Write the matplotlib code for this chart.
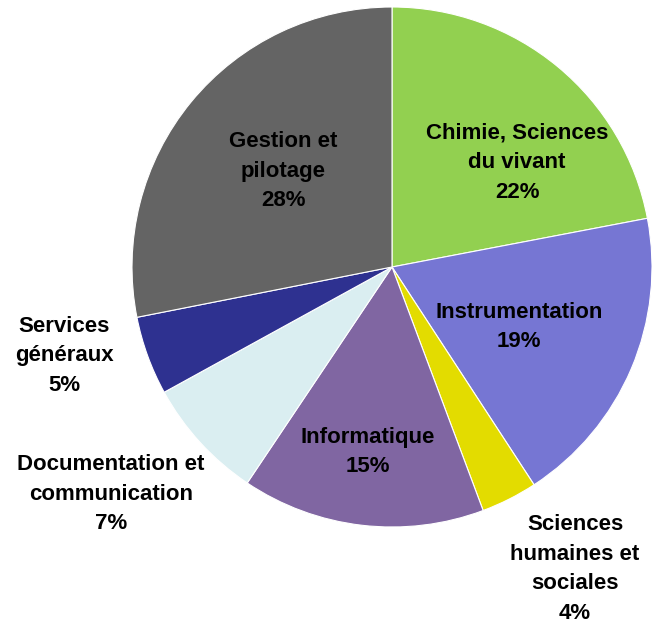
import matplotlib
matplotlib.use("Agg")
import matplotlib.pyplot as plt
from matplotlib import font_manager

categories = ["Chimie, Sciences\ndu vivant", "Instrumentation", "Sciences\nhumaines et\nsociales",
              "Informatique", "Documentation et\ncommunication", "Services\ngénéraux", "Gestion et\npilotage"]
shares = [22.0, 18.8, 3.5, 15.1, 7.6, 4.9, 28.1]
label_pct = [22, 19, 4, 15, 7, 5, 28]
colors = ["#92D050", "#7676D3", "#E3DC00", "#8066A2", "#DAEEF1", "#2E3190", "#646464"]

# label centre positions in pixel coords (x, y from top)
label_pos = [(517, 163), (519, 327), (575, 569), (368, 452), (111, 494), (64, 356), (283, 171)]

names = {f.name for f in font_manager.fontManager.ttflist}
fam = ["Liberation Sans Narrow", "Liberation Sans", "DejaVu Sans"] if "Liberation Sans Narrow" in names else ["Liberation Sans", "DejaVu Sans"]
fs = 18 if "Liberation Sans Narrow" in names else 16
ls = 1.35 if fs == 18 else 1.56

W, H = 652, 626
fig = plt.figure(figsize=(W / 100, H / 100), dpi=100)
ax = fig.add_axes([0, 0, 1, 1])

ax.pie(shares, colors=colors, startangle=90, counterclock=False,
       center=(392, H - 267), radius=260, frame=True,
       wedgeprops=dict(edgecolor="white", linewidth=0.8))
ax.set_xlim(0, W)
ax.set_ylim(0, H)
ax.set_aspect("equal")
ax.axis("off")

for cat, v, (x, y) in zip(categories, label_pct, label_pos):
    ax.text(x, H - y, f"{cat}\n{v}%", ha="center", va="center", fontsize=fs,
            fontweight="bold", family=fam, linespacing=ls, color="black")

fig.savefig("out.png", dpi=100)
